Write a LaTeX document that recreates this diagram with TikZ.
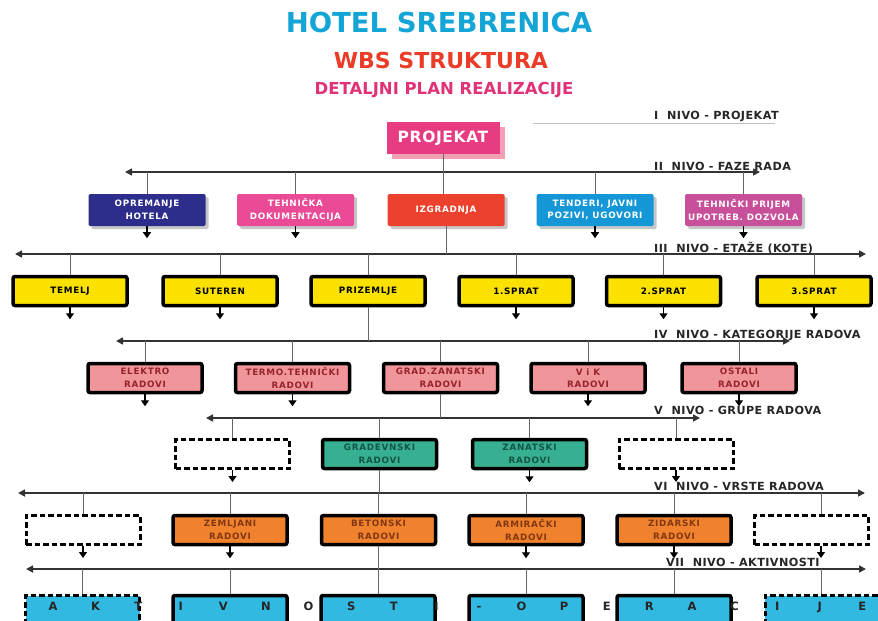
\documentclass[tikz,border=0pt]{standalone}
\usepackage{fontspec}
\setmainfont{DejaVu Sans}
\newfontfamily\spaced[LetterSpace=8]{DejaVu Sans}
\newfontfamily\labfont[LetterSpace=4]{DejaVu Sans}
\usetikzlibrary{arrows.meta,shadows}
\definecolor{ctitle}{RGB}{20,165,215}
\definecolor{cwbs}{RGB}{235,60,40}
\definecolor{cplan}{RGB}{225,50,120}
\definecolor{cproj}{RGB}{232,60,130}
\definecolor{cprojsh}{RGB}{242,160,180}
\definecolor{cnavy}{RGB}{45,45,140}
\definecolor{cpinkb}{RGB}{235,75,150}
\definecolor{cred}{RGB}{235,65,45}
\definecolor{cblue}{RGB}{20,150,215}
\definecolor{cmag}{RGB}{200,80,155}
\definecolor{cyel}{RGB}{250,225,0}
\definecolor{crose}{RGB}{240,150,155}
\definecolor{cteal}{RGB}{55,175,145}
\definecolor{corange}{RGB}{240,130,45}
\definecolor{ccyan}{RGB}{50,185,225}
\definecolor{tmaroon}{RGB}{150,35,45}
\definecolor{tteal}{RGB}{20,85,70}
\definecolor{tbrown}{RGB}{130,55,20}
\begin{document}
\begin{tikzpicture}[x=1pt,y=-1pt,
  ttl/.style={inner sep=0pt, font=\bfseries\fontsize{#1}{#1}\selectfont},
  lab/.style={anchor=west, inner sep=0pt, text=black!85, font=\labfont\bfseries\fontsize{11.2}{12}\selectfont},
  phase/.style={rectangle, rounded corners=1.5pt, minimum width=117pt, minimum height=32pt,
    inner sep=1pt, align=center, text=white, fill=#1,
    font=\spaced\bfseries\fontsize{8.8}{12.5}\selectfont,
    drop shadow={shadow xshift=3pt, shadow yshift=-3pt, fill=black!40, opacity=0.55}},
  wbox/.style={rectangle, rounded corners=2pt, draw=black, line width=3.5pt, fill=#1,
    minimum width=114pt, minimum height=29pt, inner sep=1pt, align=center,
    font=\spaced\bfseries\fontsize{8.8}{12.5}\selectfont},
  dashbox/.style={rectangle, draw=black, line width=3pt, dash pattern=on 5.5pt off 3pt, fill=#1,
    minimum width=114pt, minimum height=29pt, inner sep=1pt},
  lvl/.style={draw=black!80, line width=1.6pt, {Triangle[length=7pt,width=7pt]}-{Triangle[length=7pt,width=7pt]}},
  conn/.style={draw=black!60, line width=1pt},
  down/.style={draw=black, line width=1.3pt, -{Triangle[length=6pt,width=8pt]}},
  letter/.style={inner sep=0pt, anchor=base, text=black!85, font=\bfseries\fontsize{11.5}{11.5}\selectfont}
]
\useasboundingbox (0,0) rectangle (878,621);
\clip (0,0) rectangle (878,621);
\fill[white] (0,0) rectangle (878,621);

% titles
\node[ttl=27.5, text=ctitle] (t1) at (439,22) {HOTEL SREBRENICA};
\node[ttl=22, text=cwbs] (t2) at (441,60) {WBS STRUKTURA};
\node[ttl=16.5, text=cplan] (t3) at (444,90) {DETALJNI PLAN REALIZACIJE};

% level labels
\node[lab] (n1) at (654,116) {I\ \ NIVO - PROJEKAT};
\node[lab] (n2) at (654,166) {II\ \ NIVO - FAZE RADA};
\node[lab] (n3) at (654,248) {III\ \ NIVO - ETAŽE (KOTE)};
\node[lab] (n4) at (654,335) {IV\ \ NIVO - KATEGORIJE RADOVA};
\node[lab] (n5) at (654,410) {V\ \ NIVO - GRUPE RADOVA};
\node[lab] (n6) at (654,486) {VI\ \ NIVO - VRSTE RADOVA};
\node[lab] (n7) at (666,562) {VII\ \ NIVO - AKTIVNOSTI};

\coordinate (fa) at (533,123); \coordinate (fb) at (775,123);
\draw[black!25, line width=0.7pt] (fa) -- (fb);

% level I
\node[rectangle, fill=cproj, minimum width=113pt, minimum height=32pt, inner sep=0pt,
  text=white, font=\labfont\bfseries\fontsize{15.5}{15.5}\selectfont,
  drop shadow={shadow xshift=5pt, shadow yshift=-5pt, fill=cprojsh, opacity=1}] (pr) at (443,138) {PROJEKAT};

% level lines
\coordinate (L2a) at (125,172); \coordinate (L2b) at (760,172);
\coordinate (L3a) at (15,254);  \coordinate (L3b) at (866,254);
\coordinate (L4a) at (116,341); \coordinate (L4b) at (790,341);
\coordinate (L5a) at (206,418); \coordinate (L5b) at (700,418);
\coordinate (L6a) at (18,493);  \coordinate (L6b) at (865,493);
\coordinate (L7a) at (26,569);  \coordinate (L7b) at (866,569);

% level II
\node[phase=cnavy]  (oh) at (147,210) {OPREMANJE\\HOTELA};
\node[phase=cpinkb] (td) at (295.5,210) {TEHNIČKA\\DOKUMENTACIJA};
\node[phase=cred]   (iz) at (446,210) {IZGRADNJA};
\node[phase=cblue]  (tj) at (595,210) {TENDERI, JAVNI\\POZIVI, UGOVORI};
\node[phase=cmag]   (tp) at (743.5,210) {TEHNIČKI PRIJEM\\UPOTREB. DOZVOLA};

% level III
\node[wbox=cyel] (s1) at (70,291) {TEMELJ};
\node[wbox=cyel] (s2) at (220,291) {SUTEREN};
\node[wbox=cyel] (s3) at (368,291) {PRIZEMLJE};
\node[wbox=cyel] (s4) at (516,291) {1.SPRAT};
\node[wbox=cyel] (s5) at (663.5,291) {2.SPRAT};
\node[wbox=cyel] (s6) at (814,291) {3.SPRAT};

% level IV
\node[wbox=crose, text=tmaroon] (k1) at (145,378) {ELEKTRO\\RADOVI};
\node[wbox=crose, text=tmaroon] (k2) at (292.5,378) {TERMO.TEHNIČKI\\RADOVI};
\node[wbox=crose, text=tmaroon] (k3) at (440.5,378) {GRAD.ZANATSKI\\RADOVI};
\node[wbox=crose, text=tmaroon] (k4) at (588,378) {V i K\\RADOVI};
\node[wbox=crose, text=tmaroon] (k5) at (739,378) {OSTALI\\RADOVI};

% level V
\node[dashbox=white] (g1) at (232.5,454) {};
\node[wbox=cteal, text=tteal] (g2) at (379.5,454) {GRADEVNSKI\\RADOVI};
\node[wbox=cteal, text=tteal] (g3) at (529.5,454) {ZANATSKI\\RADOVI};
\node[dashbox=white] (g4) at (676,454) {};

% level VI
\node[dashbox=white] (v1) at (83,530) {};
\node[wbox=corange, text=tbrown] (v2) at (230,530) {ZEMLJANI\\RADOVI};
\node[wbox=corange, text=tbrown] (v3) at (378.5,530) {BETONSKI\\RADOVI};
\node[wbox=corange, text=tbrown] (v4) at (526,530) {ARMIRAČKI\\RADOVI};
\node[wbox=corange, text=tbrown] (v5) at (674,530) {ZIDARSKI\\RADOVI};
\node[dashbox=white] (v6) at (811.5,530) {};

% level VII
\node[dashbox=ccyan] (a1) at (82.5,610) {};
\node[wbox=ccyan] (a2) at (230,610) {};
\node[wbox=ccyan] (a3) at (378,610) {};
\node[wbox=ccyan] (a4) at (526,610) {};
\node[wbox=ccyan] (a5) at (674,610) {};
\node[dashbox=ccyan] (a6) at (822,610) {};

% connectors
\draw[lvl] (L2a) -- (L2b);
\draw[lvl] (L3a) -- (L3b);
\draw[lvl] (L4a) -- (L4b);
\draw[lvl] (L5a) -- (L5b);
\draw[lvl] (L6a) -- (L6b);
\draw[lvl] (L7a) -- (L7b);

\draw[conn] (pr.south) -- (pr.south |- iz.north);
\foreach \b in {oh,td,tj,tp} \draw[conn] (\b.north) -- (\b.north |- L2a);
\draw[conn] (iz.south) -- (iz.south |- L3a);
\foreach \b in {s1,s2,s3,s4,s5,s6} \draw[conn] (\b.north) -- (\b.north |- L3a);
\draw[conn] (s3.south) -- (s3.south |- L4a);
\foreach \b in {k1,k2,k3,k4,k5} \draw[conn] (\b.north) -- (\b.north |- L4a);
\draw[conn] (k3.south) -- (k3.south |- L5a);
\foreach \b in {g1,g2,g3,g4} \draw[conn] (\b.north) -- (\b.north |- L5a);
\draw[conn] (g2.south) -- (g2.south |- L6a);
\foreach \b in {v1,v2,v3,v4,v5} \draw[conn] (\b.north) -- (\b.north |- L6a);
\draw[conn] ([xshift=9.5pt]v6.north) -- ([xshift=9.5pt]v6.north |- L6a);
\draw[conn] (v3.south) -- (v3.south |- L7a);
\foreach \b in {a1,a2,a3,a4,a5} \draw[conn] (\b.north) -- (\b.north |- L7a);
\draw[conn] ([xshift=-1pt]a6.north) -- ([xshift=-1pt]a6.north |- L7a);

\foreach \b in {oh,td,tj,tp} \draw[down] (\b.south) -- ++(0,12);
\foreach \b in {s1,s2,s4,s5,s6} \draw[down] (\b.south) -- ++(0,12);
\foreach \b in {k1,k2,k4,k5} \draw[down] (\b.south) -- ++(0,12);
\foreach \b in {g1,g3,g4} \draw[down] (\b.south) -- ++(0,12);
\foreach \b in {v1,v2,v4,v5} \draw[down] (\b.south) -- ++(0,12);
\draw[down] ([xshift=9.5pt]v6.south) -- ++(0,12);

% bottom letters
\foreach \ch [count=\i from 0] in {A,K,T,I,V,N,O,S,T,I,-,O,P,E,R,A,C,I,J,E}
  \node[letter] (let\i) at ({53+42.6*\i},610.5) {\ch};
\end{tikzpicture}
\end{document}
